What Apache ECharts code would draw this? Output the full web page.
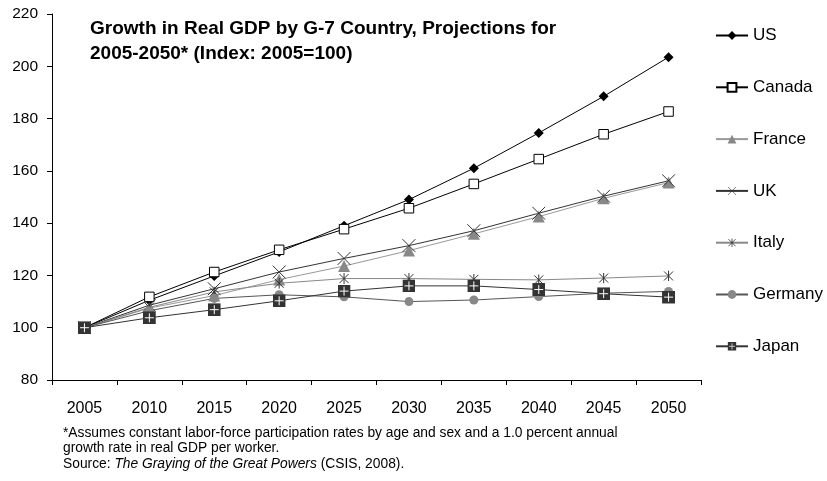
<!DOCTYPE html>
<html>
<head>
<meta charset="utf-8">
<script src="https://cdn.jsdelivr.net/npm/echarts@6/dist/echarts.min.js"></script>
<style>
  html, body { margin: 0; padding: 0; background: #fff; }
  #chart { width: 827px; height: 481px; }
</style>
</head>
<body>
<div id="chart"></div>
<script>
// Real GDP index (2005 = 100), projections to 2050
const years = ['2005', '2010', '2015', '2020', '2025', '2030', '2035', '2040', '2045', '2050'];
const us      = [100, 110.5, 119.8, 129.0, 139.0, 149.0, 161.0, 174.5, 188.5, 203.5];
const canada  = [100, 111.8, 121.3, 129.8, 137.7, 145.7, 155.0, 164.5, 174.0, 182.7];
const france  = [100, 107.5, 112.3, 118.4, 123.6, 129.5, 135.9, 142.5, 149.5, 155.5];
const uk      = [100, 108.6, 114.9, 121.3, 126.5, 131.4, 137.1, 143.8, 150.3, 156.2];
const italy   = [100, 107.8, 113.7, 117.0, 118.8, 118.8, 118.5, 118.3, 119.0, 119.8];
const germany = [100, 106.5, 111.2, 112.6, 111.8, 110.0, 110.6, 111.9, 113.2, 113.9];
const japan   = [100, 103.8, 106.9, 110.3, 114.0, 116.0, 116.0, 114.6, 113.0, 111.7];
const yTicks  = { min: 80, max: 220, step: 20 };

const FONT = 'Liberation Sans, Arial, sans-serif';

function svgSymbol(svg) {
  return 'image://data:image/svg+xml;charset=utf-8,' + encodeURIComponent(svg);
}
const crossMark = svgSymbol(
  '<svg xmlns="http://www.w3.org/2000/svg" width="28" height="28" viewBox="0 0 28 28">' +
  '<path d="M1,1 L27,27 M27,1 L1,27" stroke="#333" stroke-width="2" fill="none"/></svg>');
const starMark = svgSymbol(
  '<svg xmlns="http://www.w3.org/2000/svg" width="22" height="22" viewBox="0 0 22 22">' +
  '<path d="M2,2 L20,20 M20,2 L2,20 M11,0 L11,22" stroke="#333" stroke-width="2" fill="none"/></svg>');
const plusBox = svgSymbol(
  '<svg xmlns="http://www.w3.org/2000/svg" width="26" height="26" viewBox="0 0 26 26">' +
  '<rect x="0" y="0" width="26" height="26" fill="#333"/>' +
  '<path d="M13,4 L13,22 M4,13 L22,13" stroke="#fff" stroke-width="2" fill="none"/></svg>');

function lineSeries(name, data, lineColor, symbol, size, markerStyle) {
  return {
    name: name,
    type: 'line',
    data: data,
    symbol: symbol,
    symbolSize: size,
    showAllSymbol: true,
    lineStyle: { color: lineColor, width: 1 },
    itemStyle: Object.assign({ color: lineColor }, markerStyle || {}),
    emphasis: { disabled: true },
    animation: false
  };
}

const chart = echarts.init(document.getElementById('chart'));
chart.setOption({
  backgroundColor: '#fff',
  animation: false,
  title: {
    text: 'Growth in Real GDP by G-7 Country, Projections for\n2005-2050* (Index: 2005=100)',
    left: 90,
    top: 16,
    padding: 0,
    textStyle: { fontFamily: FONT, fontSize: 19, fontWeight: 'bold', color: '#000', lineHeight: 25 }
  },
  legend: {
    orient: 'vertical',
    left: 715,
    top: 27,
    padding: 0,
    itemWidth: 32,
    itemHeight: 11,
    itemGap: 34.8,
    textStyle: { fontFamily: FONT, fontSize: 17, color: '#000' },
    data: ['US', 'Canada', 'France', 'UK', 'Italy', 'Germany', 'Japan']
  },
  grid: { left: 52, right: 126, top: 14, bottom: 101, containLabel: false },
  xAxis: {
    type: 'category',
    data: years,
    boundaryGap: true,
    axisLine: { lineStyle: { color: '#000', width: 1 } },
    axisTick: { show: true, length: 5, lineStyle: { color: '#000' } },
    axisLabel: { color: '#000', fontFamily: FONT, fontSize: 16, margin: 21 },
    splitLine: { show: false }
  },
  yAxis: {
    type: 'value',
    min: yTicks.min,
    max: yTicks.max,
    interval: yTicks.step,
    axisLine: { show: true, lineStyle: { color: '#000', width: 1 } },
    axisTick: { show: true, length: 5, lineStyle: { color: '#000' } },
    axisLabel: { color: '#000', fontFamily: FONT, fontSize: 15.5, margin: 14 },
    splitLine: { show: false }
  },
  graphic: [{
    type: 'text',
    left: 63,
    top: 425,
    style: {
      text: '*Assumes constant labor-force participation rates by age and sex and a 1.0 percent annual\n' +
            'growth rate in real GDP per worker.\n' +
            'Source: {i|The Graying of the Great Powers} (CSIS, 2008).',
      fontFamily: FONT,
      fontSize: 13.8,
      lineHeight: 15.5,
      fill: '#000',
      rich: { i: { fontFamily: FONT, fontSize: 13.8, fontStyle: 'italic', lineHeight: 15.5, fill: '#000' } }
    }
  }],
  series: [
    lineSeries('US', us, '#000', 'diamond', 10, { color: '#000' }),
    lineSeries('Canada', canada, '#000', 'rect', 9.5, { color: '#fff', borderColor: '#000', borderWidth: 1 }),
    lineSeries('France', france, '#999', 'triangle', 12, { color: '#888' }),
    lineSeries('UK', uk, '#333', crossMark, 14),
    lineSeries('Italy', italy, '#888', starMark, 11),
    lineSeries('Germany', germany, '#555', 'circle', 9, { color: '#888' }),
    lineSeries('Japan', japan, '#333', plusBox, 13)
  ]
});
</script>
</body>
</html>
